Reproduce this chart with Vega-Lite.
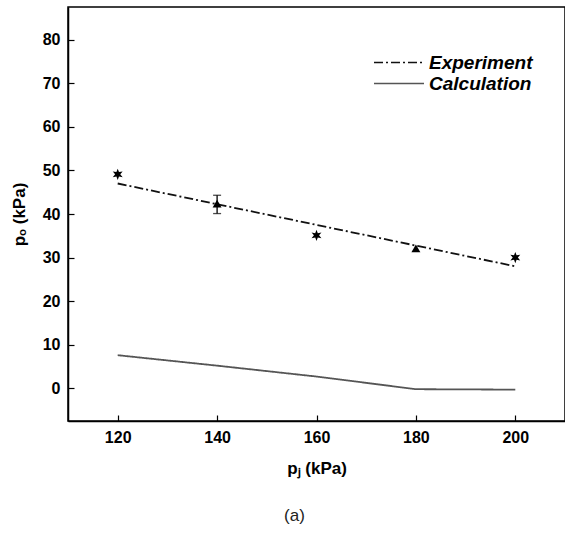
{
  "$schema": "https://vega.github.io/schema/vega-lite/v6.json",
  "width": 497,
  "height": 414,
  "autosize": {"type": "none"},
  "padding": {"left": 68, "top": 7, "right": 0, "bottom": 116},
  "background": "white",
  "title": {"text": "(a)", "orient": "bottom", "anchor": "middle", "dx": -22, "offset": 32, "fontSize": 17, "fontWeight": "normal", "font": "Liberation Sans", "color": "#222"},
  "config": {
    "view": {"stroke": "black", "strokeWidth": 1.5},
    "axis": {"domainColor": "black", "domainWidth": 1.5, "tickColor": "black", "tickWidth": 1.2, "grid": false, "labelFont": "Liberation Sans", "labelFontWeight": "bold", "labelFontSize": 16, "labelColor": "black", "titleFont": "Liberation Sans", "titleFontWeight": "bold", "titleFontSize": 17, "titleColor": "black"}
  },
  "layer": [
    {
      "data": {"values": [
        {"pj": 120, "po": 47.0, "series": "Experiment"},
        {"pj": 200, "po": 28.0, "series": "Experiment"},
        {"pj": 120, "po": 7.6, "series": "Calculation"},
        {"pj": 140, "po": 5.2, "series": "Calculation"},
        {"pj": 160, "po": 2.7, "series": "Calculation"},
        {"pj": 180, "po": -0.2, "series": "Calculation"},
        {"pj": 200, "po": -0.3, "series": "Calculation"}
      ]},
      "mark": {"type": "line", "strokeWidth": 1.8},
      "encoding": {
        "x": {
          "field": "pj", "type": "quantitative",
          "scale": {"domain": [110, 210], "nice": false, "zero": false},
          "axis": {
            "title": "pⱼ (kPa)",
            "values": [120, 140, 160, 180, 200],
            "tickSize": -6,
            "labelPadding": 14,
            "titlePadding": 15
          }
        },
        "y": {
          "field": "po", "type": "quantitative",
          "scale": {"domain": [-7.5, 87.5], "nice": false, "zero": false},
          "axis": {
            "title": "pₒ (kPa)",
            "values": [0, 10, 20, 30, 40, 50, 60, 70, 80],
            "tickSize": -6,
            "labelPadding": 14,
            "titlePadding": 14
          }
        },
        "strokeDash": {
          "field": "series", "type": "nominal",
          "scale": {"domain": ["Experiment", "Calculation"], "range": [[9, 3, 2, 3], [1, 0]]},
          "legend": {
            "title": null, "orient": "none", "legendX": 305, "legendY": 46,
            "symbolType": "stroke", "symbolSize": 2500, "symbolStrokeWidth": 1.5,
            "clipHeight": 19, "rowPadding": 1, "labelOffset": 4,
            "labelFont": "Liberation Sans", "labelFontSize": 19, "labelFontWeight": "bold", "labelFontStyle": "italic", "labelColor": "black"
          }
        },
        "color": {
          "field": "series", "type": "nominal",
          "scale": {"domain": ["Experiment", "Calculation"], "range": ["#111111", "#555555"]},
          "legend": {
            "title": null, "orient": "none", "legendX": 305, "legendY": 46,
            "symbolType": "stroke", "symbolSize": 2500, "symbolStrokeWidth": 1.5,
            "clipHeight": 19, "rowPadding": 1, "labelOffset": 4,
            "labelFont": "Liberation Sans", "labelFontSize": 19, "labelFontWeight": "bold", "labelFontStyle": "italic", "labelColor": "black"
          }
        }
      }
    },
    {
      "data": {"values": [{"pj": 140, "lo": 40.1, "hi": 44.3}]},
      "mark": {"type": "rule", "color": "black", "strokeWidth": 1.3},
      "encoding": {
        "x": {"field": "pj", "type": "quantitative"},
        "y": {"field": "lo", "type": "quantitative"},
        "y2": {"field": "hi"}
      }
    },
    {
      "data": {"values": [{"pj": 140, "cap": 40.1}, {"pj": 140, "cap": 44.3}]},
      "mark": {"type": "tick", "orient": "horizontal", "color": "black", "size": 8, "thickness": 1.3},
      "encoding": {
        "x": {"field": "pj", "type": "quantitative"},
        "y": {"field": "cap", "type": "quantitative"}
      }
    },
    {
      "data": {"values": [
        {"pj": 120, "po": 49.1},
        {"pj": 160, "po": 35.1},
        {"pj": 200, "po": 30.0}
      ]},
      "mark": {"type": "point", "shape": "M0,-1L0.225,-0.39L0.866,-0.5L0.45,0L0.866,0.5L0.225,0.39L0,1L-0.225,0.39L-0.866,0.5L-0.45,0L-0.866,-0.5L-0.225,-0.39Z", "filled": true, "color": "black", "opacity": 1, "size": 130},
      "encoding": {
        "x": {"field": "pj", "type": "quantitative"},
        "y": {"field": "po", "type": "quantitative"}
      }
    },
    {
      "data": {"values": [
        {"pj": 140, "po": 42.4},
        {"pj": 180, "po": 32.1}
      ]},
      "mark": {"type": "point", "shape": "triangle-up", "filled": true, "color": "black", "opacity": 1, "size": 80},
      "encoding": {
        "x": {"field": "pj", "type": "quantitative"},
        "y": {"field": "po", "type": "quantitative"}
      }
    }
  ]
}
